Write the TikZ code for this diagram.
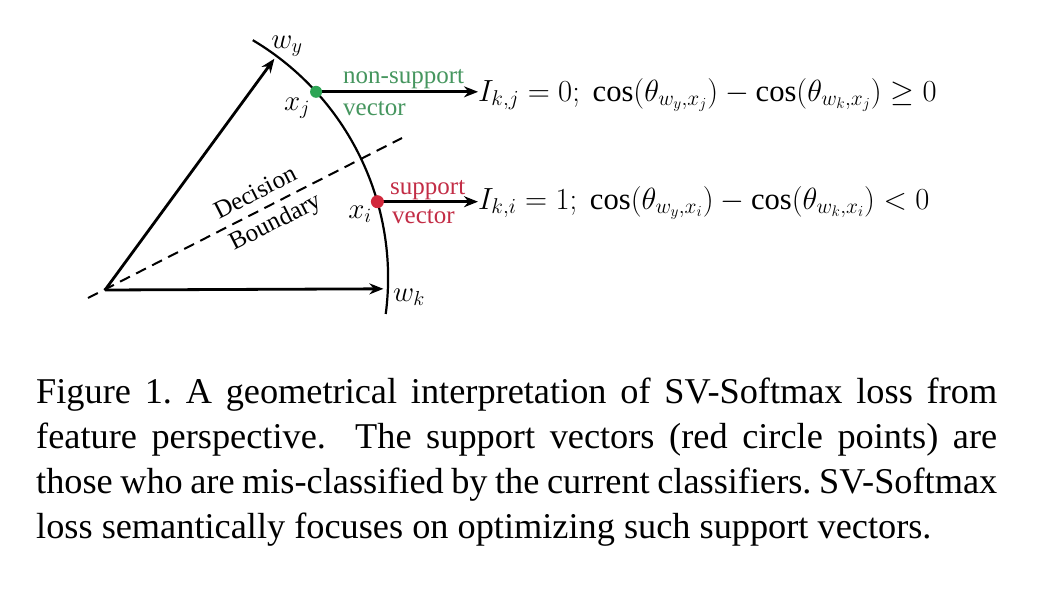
\RequirePackage{fix-cm}
\documentclass[tikz,border=0pt]{standalone}
\usepackage{fontspec}
\setmainfont{Liberation Serif}
\usetikzlibrary{arrows.meta}
\definecolor{nsgreen}{RGB}{70,150,95}
\definecolor{svred}{RGB}{195,45,70}
\definecolor{dotgreen}{RGB}{45,165,85}
\definecolor{dotred}{RGB}{210,40,60}
\begin{document}
\begin{tikzpicture}[x=1pt,y=-1pt,
  vec/.style={line width=2.8pt,-{Stealth[length=14pt,width=11pt]}},
  arcline/.style={line width=2.2pt},
  dboundary/.style={line width=2pt,dash pattern=on 11pt off 7pt},
  lbl/.style={inner sep=0pt,font=\fontsize{25}{28}\selectfont},
  mth/.style={inner sep=0pt,font=\fontsize{29}{30}\selectfont},
  eqn/.style={inner sep=0pt,anchor=base west,font=\fontsize{30.6}{34}\selectfont},
  dot/.style={circle,inner sep=0pt,minimum size=12pt}]
\useasboundingbox (0,0) rectangle (1038,594);
\fill[white] (0,0) rectangle (1038,594);
% geometry
\coordinate (C) at (111.6,277.9);
\coordinate (O) at (105,290);
\path (C) ++(-53.4:273) coordinate (Wy);
\path (C) ++(2.3:272) coordinate (Wk);
\path (C) ++(-42.3:276.5) coordinate (xj);
\path (C) ++(-16:276.5) coordinate (xi);
\coordinate (db1) at (88,298);
\coordinate (db2) at (402,138);
% arc
\draw[arcline] (C) ++(-59.3:276.5) arc[start angle=-59.3,end angle=7.5,radius=276.5];
% decision boundary
\draw[dboundary] (db1) -- (db2);
% weight vectors
\draw[vec] (O) -- (Wy);
\draw[vec] (O) -- (Wk);
% equations
\node[eqn] (eq1) at (478,101) {$I_{k,j}=0;\ \cos(\theta_{w_y,x_j})-\cos(\theta_{w_k,x_j})\geq 0$};
\node[eqn] (eq2) at (478,209) {$I_{k,i}=1;\ \cos(\theta_{w_y,x_i})-\cos\bigl(\theta_{w_k,x_i}\bigr)<0$};
% arrows from points
\draw[vec] (xj) -- (xj -| eq1.west);
\draw[vec] (xi) -- (xi -| eq2.west);
\node[dot,fill=dotgreen] (xjdot) at (xj) {};
\node[dot,fill=dotred,minimum size=13pt] (xidot) at (xi) {};
% labels
\node[mth] (lwy) at (287,46) {$w_y$};
\node[mth] (lwk) at (409,297) {$w_k$};
\node[mth] (lxj) at (297,108) {$x_j$};
\node[mth] (lxi) at (360,214) {$x_i$};
\node[lbl,text=nsgreen,anchor=base west] (ns1) at (343,84) {non-support};
\node[lbl,text=nsgreen,anchor=base west] (ns2) at (343,115) {vector};
\node[lbl,text=svred,anchor=base west] (sv1) at (390,194) {support};
\node[lbl,text=svred,anchor=base west] (sv2) at (392,223) {vector};
\node[lbl,rotate=27] (dbl1) at (255,192) {Decision};
\node[lbl,rotate=27] (dbl2) at (276,223) {Boundary};
% caption
\node[inner sep=0pt,anchor=base west,font=\fontsize{36.3}{45}\selectfont] (cap) at (36,403)
{\parbox[t]{961pt}{\hyphenpenalty=10000\exhyphenpenalty=10000
Figure 1.\ A geometrical interpretation of SV-Softmax loss from\linebreak
feature perspective.\ \ The support vectors (red circle points) are\linebreak
those who are mis-classified by the current classifiers.\ SV-Softmax\linebreak
loss semantically focuses on optimizing such support vectors.}};
\end{tikzpicture}
\end{document}
